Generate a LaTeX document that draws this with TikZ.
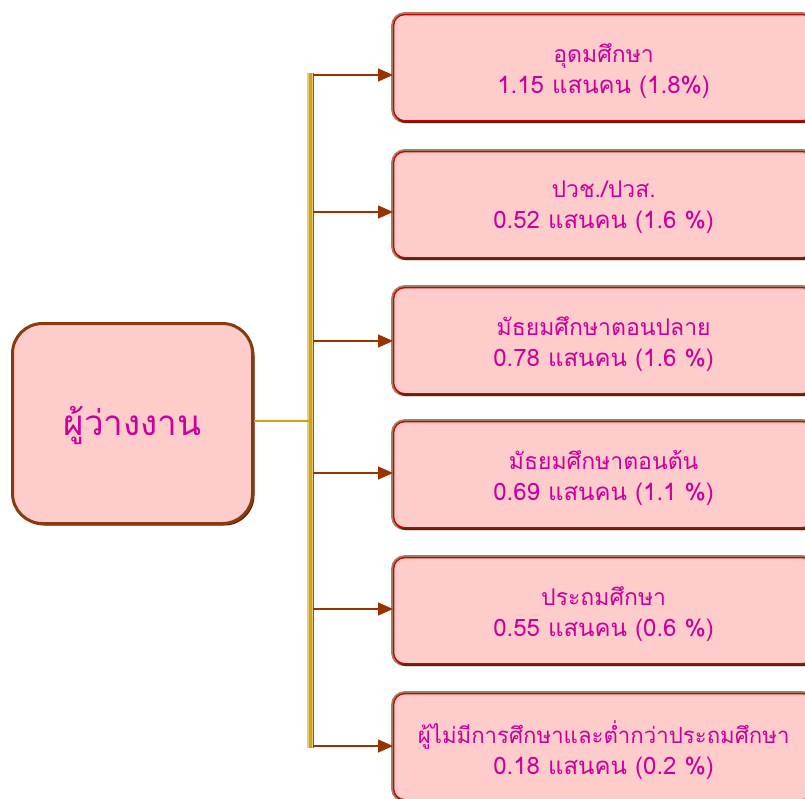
\documentclass[tikz,border=0pt]{standalone}
\usepackage{fontspec}
\newfontfamily\thaifont[Script=Thai]{Loma}
\usetikzlibrary{arrows.meta,shadows}
\definecolor{boxpink}{HTML}{FFCCCC}
\definecolor{txtmag}{HTML}{CC0099}
\definecolor{redline}{HTML}{CC0000}
\definecolor{tanring}{HTML}{A08060}
\definecolor{shadowbrown}{HTML}{4A2A10}
\definecolor{mainbrown}{HTML}{8B3A10}
\definecolor{mainshadow}{HTML}{5A1A00}
\definecolor{arrowbrown}{HTML}{993300}
\definecolor{goldmid}{HTML}{D4A017}
\definecolor{goldlight}{HTML}{E8CC78}
\definecolor{golddark}{HTML}{7A6010}
\newcommand{\firstline}[2][23]{\raisebox{0pt}[\dimexpr\height+6pt\relax]{\fontsize{#1}{31}\selectfont #2}}
\tikzset{
  catbox/.style={rounded corners=11pt, fill=boxpink, draw=redline, line width=1.3pt,
    minimum width=420pt, minimum height=106pt, anchor=north west,
    preaction={draw=tanring, line width=5pt},
    drop shadow={shadow xshift=1.5pt, shadow yshift=-2.5pt, fill=shadowbrown, opacity=1},
    font=\thaifont\fontsize{24}{31}\selectfont, text=txtmag, align=center, inner sep=0pt},
  mainbox/.style={rounded corners=30pt, fill=boxpink, draw=mainbrown, line width=3pt,
    minimum width=240pt, minimum height=200pt, anchor=north west,
    drop shadow={shadow xshift=2pt, shadow yshift=-2pt, fill=mainshadow, opacity=1},
    font=\thaifont\fontsize{35}{40}\selectfont, text=txtmag, inner sep=0pt},
  arr/.style={draw=arrowbrown, line width=1.6pt, -{Triangle[length=15pt,width=13pt]}},
  feed/.style={draw=goldmid, line width=2pt}
}
\begin{document}
\begin{tikzpicture}[x=1pt,y=-1pt]
\useasboundingbox (0,0) rectangle (805,798);
% main box
\node[mainbox] (main) at (11,322) {\raisebox{0pt}[\dimexpr\height+4pt\relax]{ผู้ว่างงาน}};
% category boxes
\node[catbox] (c1) at (393,14)  {\firstline{อุดมศึกษา}\\1.15 แสนคน (1.8\%)};
\node[catbox] (c2) at (393,151) {\firstline{ปวช./ปวส.}\\0.52 แสนคน (1.6 \%)};
\node[catbox] (c3) at (393,287) {\firstline{มัธยมศึกษาตอนปลาย}\\0.78 แสนคน (1.6 \%)};
\node[catbox] (c4) at (393,421) {\firstline{มัธยมศึกษาตอนต้น}\\0.69 แสนคน (1.1 \%)};
\node[catbox] (c5) at (393,557) {\firstline{ประถมศึกษา}\\0.55 แสนคน (0.6 \%)};
\node[catbox] (c6) at (393,693) {\firstline[22.2]{ผู้ไม่มีการศึกษาและต่ำกว่าประถมศึกษา}\\0.18 แสนคน (0.2 \%)};
% bar
\coordinate (top) at (310,73);
\coordinate (bot) at (310,748);
\coordinate (j) at (310,421);
\draw[goldlight, line width=7pt] (top) -- (bot);
\draw[goldmid, line width=3pt] ([xshift=0.5pt]top) -- ([xshift=0.5pt]bot);
\draw[golddark, line width=1.2pt] ([xshift=3.2pt]top) -- ([xshift=3.2pt]bot);
\draw[feed] (main.east |- j) -- (j);
% branch points
\coordinate (b1) at (313,75);
\coordinate (b2) at (313,212);
\coordinate (b3) at (313,341);
\coordinate (b4) at (313,473);
\coordinate (b5) at (313,609);
\coordinate (b6) at (313,746);
\foreach \i in {1,...,6}{
  \draw[arr] (b\i) -- (b\i -| c\i.west);
}
\end{tikzpicture}
\end{document}
